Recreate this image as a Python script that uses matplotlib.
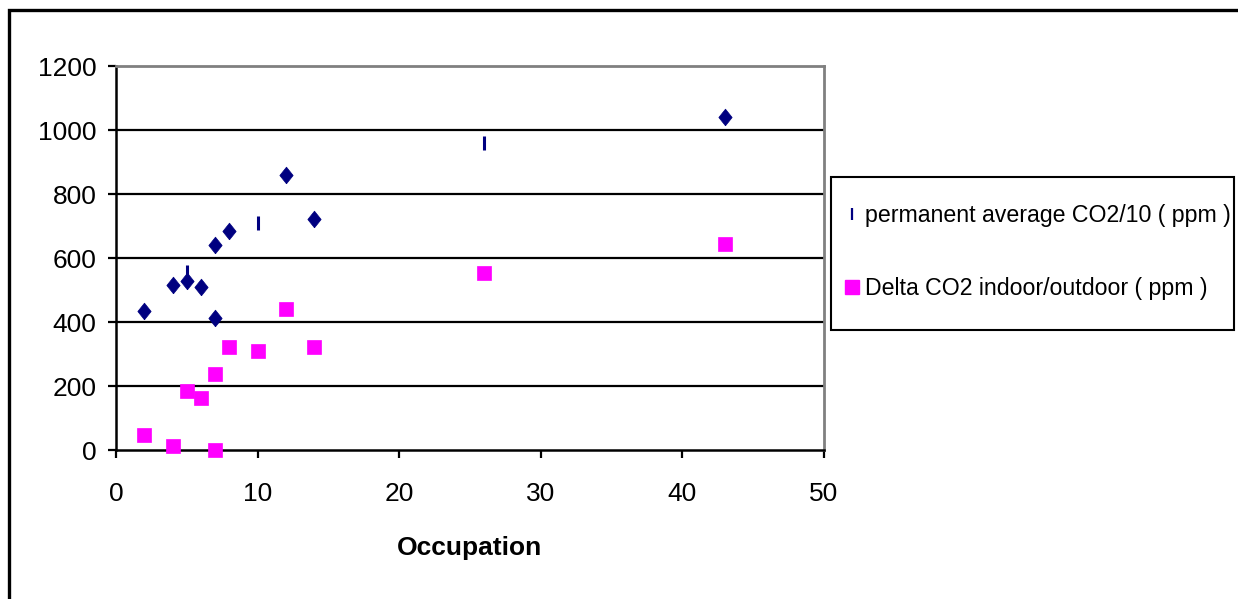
import matplotlib
matplotlib.use("Agg")
import matplotlib.pyplot as plt
from matplotlib.lines import Line2D
from matplotlib.patches import Rectangle

# Occupation (persons) and measured CO2 values
occupation = [2, 4, 5, 5, 6, 7, 7, 8, 10, 12, 14, 26, 43]
co2_avg_div10 = [433, 516, 529, 556, 510, 413, 641, 684, 709, 859, 722, 959, 1041]
# points of the first series that carry the bar marker instead of a diamond
bar_points = [3, 8, 11]

delta_occupation = [2, 4, 5, 6, 7, 7, 8, 10, 12, 14, 26, 43]
delta_co2 = [46, 13, 183, 163, 237, 0, 321, 308, 440, 321, 553, 644]

x_ticks = [0, 10, 20, 30, 40, 50]
y_ticks = [0, 200, 400, 600, 800, 1000, 1200]

label_avg = "permanent average CO2/10 ( ppm )"
label_delta = "Delta CO2 indoor/outdoor ( ppm )"
x_title = "Occupation"

NAVY = "#000080"
MAGENTA = "#FF00FF"

plt.rcParams["font.family"] = ["Liberation Sans", "DejaVu Sans"]

W, H = 1238, 599
fig = plt.figure(figsize=(W / 100, H / 100), dpi=100)
ax = fig.add_axes([116 / W, 1 - 450 / H, (824 - 116) / W, (450 - 66) / H])

diamond = [(0, -1), (0.8, 0), (0, 1), (-0.8, 0), (0, -1)]

dx = [x for i, x in enumerate(occupation) if i not in bar_points]
dy = [y for i, y in enumerate(co2_avg_div10) if i not in bar_points]
bx = [occupation[i] for i in bar_points]
by = [co2_avg_div10[i] for i in bar_points]

ax.plot(dx, dy, linestyle="none", marker=diamond, markersize=12,
        markerfacecolor=NAVY, markeredgecolor=NAVY, markeredgewidth=0.5,
        zorder=4, clip_on=False)
ax.plot(bx, by, linestyle="none", marker="|", markersize=10,
        markeredgecolor=NAVY, markeredgewidth=2.2, zorder=4, clip_on=False)
ax.plot(delta_occupation, delta_co2, linestyle="none", marker="s",
        markersize=10.2, markerfacecolor=MAGENTA, markeredgecolor=MAGENTA,
        markeredgewidth=0.5, zorder=4, clip_on=False)

ax.set_xlim(0, 50)
ax.set_ylim(0, 1200)
ax.set_xticks(x_ticks)
ax.set_yticks(y_ticks)
ax.tick_params(axis="both", direction="out", length=6, width=1.6,
               labelsize=19, colors="black")
ax.tick_params(axis="y", pad=8)
ax.tick_params(axis="x", pad=17)

for v in y_ticks[1:-1]:
    ax.axhline(v, color="black", linewidth=1.6, zorder=1)

for side in ("left", "bottom"):
    ax.spines[side].set_color("black")
    ax.spines[side].set_linewidth(1.8)
for side in ("top", "right"):
    ax.spines[side].set_color("#808080")
    ax.spines[side].set_linewidth(2.0)

ax.set_xlabel(x_title, fontsize=19, fontweight="bold", labelpad=22)

handles = [
    Line2D([], [], linestyle="none", marker="|", markersize=9,
           markeredgecolor=NAVY, markeredgewidth=1.6),
    Line2D([], [], linestyle="none", marker="s", markersize=10,
           markerfacecolor=MAGENTA, markeredgecolor=MAGENTA),
]
leg = fig.legend(handles, [label_avg, label_delta], loc="center left",
                 bbox_to_anchor=(845 / W, 1 - 252 / H), fontsize=16.7,
                 frameon=False, borderpad=0, labelspacing=2.15,
                 handlelength=0.6, handletextpad=0.26, borderaxespad=0)

# legend box
fig.patches.append(Rectangle((831 / W, 1 - 330 / H), (1234 - 831) / W,
                             (330 - 177) / H, transform=fig.transFigure,
                             fill=False, edgecolor="black", linewidth=1.5))

# outer chart border running off the right and bottom edges
fig.patches.append(Rectangle((8.5 / W, -0.05), 1.1, 1 - 9.5 / H + 0.05,
                             transform=fig.transFigure, fill=False,
                             edgecolor="black", linewidth=2.4, zorder=0))

fig.savefig("out.png", dpi=100)
